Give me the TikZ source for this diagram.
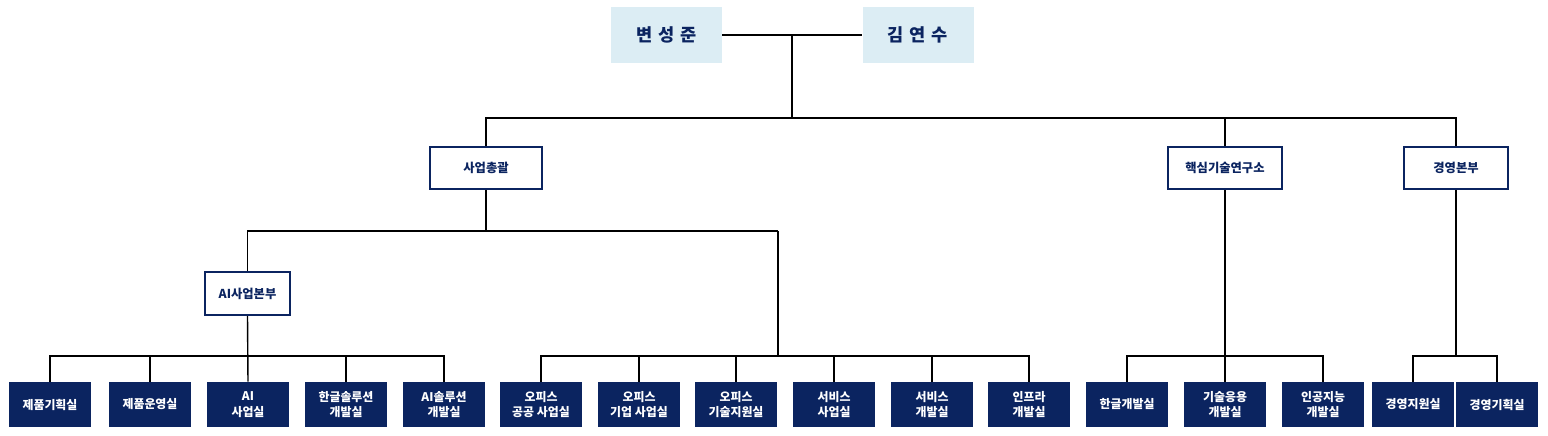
\documentclass[tikz,border=0pt]{standalone}
\usepackage{fontspec}
\setmainfont{Noto Sans CJK KR}
\usetikzlibrary{positioning}
\definecolor{navy}{HTML}{0B2460}
\definecolor{paleblue}{HTML}{DCEDF4}

\begin{document}
\begin{tikzpicture}[x=0.02cm, y=-0.02cm,
	chief/.style={fill=paleblue, text=navy, font=\bfseries\fontsize{10}{12}\selectfont, minimum width=2.22cm, minimum height=1.12cm, inner sep=0pt},
	dept/.style={draw=navy, line width=1.2pt, fill=white, text=navy, font=\bfseries\fontsize{7}{9}\selectfont, minimum height=0.84cm, inner sep=0pt},
	leaf/.style={fill=navy, text=white, font=\bfseries\fontsize{6.8}{9}\selectfont, align=center, minimum width=1.64cm, minimum height=0.9cm, inner sep=0pt},
	link/.style={line width=0.8pt}]
		\useasboundingbox (0,0) rectangle (1548,436);
		% top
		\node [chief] (byun) at (666.5,35) {변\,\,성\,\,준};
		\node [chief] (kim) at (918,35) {김\,\,연\,\,수};
		\coordinate (top) at (792,35);
		\coordinate (bar1) at (792,118);
		% departments
		\node [dept, minimum width=2.24cm] (biz) at (486,168) {사업총괄};
		\node [dept, minimum width=2.28cm] (lab) at (1225,168) {핵심기술연구소};
		\node [dept, minimum width=2.08cm] (mgmt) at (1456,168) {경영본부};
		\node [dept, minimum width=1.7cm, minimum height=0.86cm] (aihq) at (247.5,293.5) {AI사업본부};
		\coordinate (bar2) at (486,231);
		\coordinate (office) at (778,231);
		% leaves
		\foreach \x/\t [count=\n] in {50/제품기획실, 150/제품운영실, 248/{AI\\사업실}, 346/{한글솔루션\\개발실}, 444/{AI솔루션\\개발실},
			541/{오피스\\공공 사업실}, 639/{오피스\\기업 사업실}, 736/{오피스\\기술지원실}, 834/{서비스\\사업실}, 932/{서비스\\개발실}, 1029/{인프라\\개발실},
			1127/한글개발실, 1225/{기술응용\\개발실}, 1323/{인공지능\\개발실}, 1413/경영지원실, 1497/경영기획실}{
			\node [leaf] (l\n) at (\x,404.5) {\t};
		}
		\draw [link] (byun.east) -- (kim.west);
		\draw [link] (top) -- (bar1);
		\draw [link] (biz.north) |- (bar1) -| (mgmt.north);
		\draw [link] (lab.north) -- (lab.north |- bar1);
		\draw [link] (biz.south) -- (bar2);
		\draw [link] (aihq.north) |- (bar2) -| (office);
		\draw [link] (l1.north) |- (aihq.south |- 0,356) -| (l5.north);
		\draw [link] (aihq.south) -- (l3.north);
		\foreach \n in {2,4}{ \draw [link] (l\n.north) -- ++(0,-26); }
		\draw [link] (l6.north) |- (office |- 0,356) -| (l11.north);
		\draw [link] (office) -- (office |- 0,356);
		\foreach \n in {7,8,9,10}{ \draw [link] (l\n.north) -- ++(0,-26); }
		\draw [link] (l12.north) |- (lab.south |- 0,356) -| (l14.north);
		\draw [link] (lab.south) -- (l13.north);
		\draw [link] (l15.north) |- (mgmt.south |- 0,356) -| (l16.north);
		\draw [link] (mgmt.south) -- (mgmt.south |- 0,356);
	\end{tikzpicture}
\end{document}
